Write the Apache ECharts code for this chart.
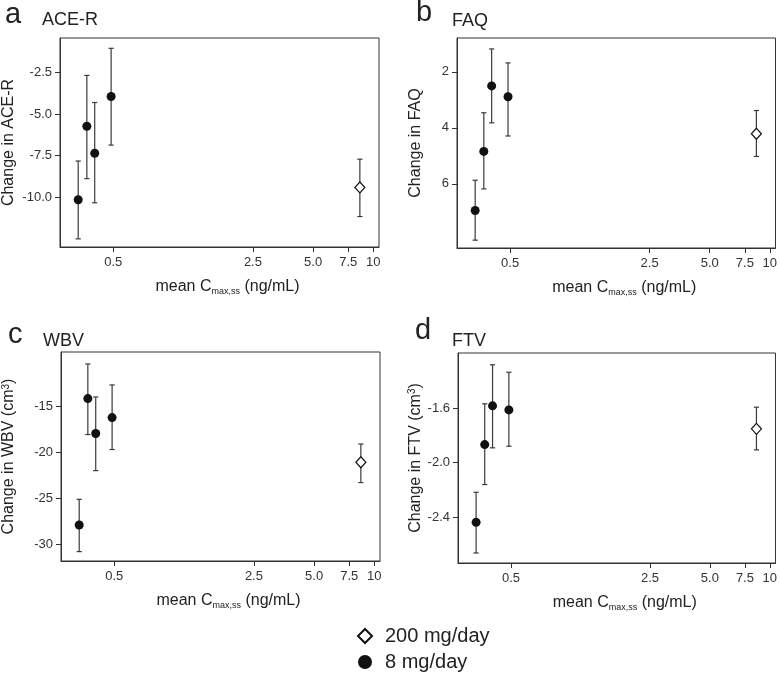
<!DOCTYPE html>
<html>
<head>
<meta charset="utf-8">
<script src="https://cdn.jsdelivr.net/npm/echarts@6/dist/echarts.min.js"></script>
<style>
html,body{margin:0;padding:0;background:#fff;}
#main{width:780px;height:675px;}
</style>
</head>
<body>
<div id="main"></div>
<script>
// ---- data ----
const conc8 = [0.334, 0.369, 0.404, 0.488];   // mean Cmax,ss for 8 mg/day groups
const conc200 = [8.57];                        // mean Cmax,ss for 200 mg/day

const aceMean8 = [-10.16, -5.74, -7.36, -3.95];
const aceLow8  = [-12.51, -8.89, -10.34, -6.87];
const aceHigh8 = [-7.83, -2.68, -4.31, -1.05];
const aceMean200 = [-9.42];
const aceLow200  = [-11.17];
const aceHigh200 = [-7.72];

const faqMean8 = [6.95, 4.84, 2.50, 2.89];
const faqLow8  = [5.87, 3.46, 1.18, 1.68];
const faqHigh8 = [8.01, 6.18, 3.82, 4.29];
const faqMean200 = [4.21];
const faqLow200  = [3.38];
const faqHigh200 = [5.02];

const wbvMean8 = [-27.87, -14.13, -17.93, -16.20];
const wbvLow8  = [-30.76, -18.04, -21.96, -19.67];
const wbvHigh8 = [-25.08, -10.37, -13.96, -12.65];
const wbvMean200 = [-21.05];
const wbvLow200  = [-23.26];
const wbvHigh200 = [-19.07];

const ftvMean8 = [-2.44, -1.866, -1.58, -1.61];
const ftvLow8  = [-2.666, -2.161, -1.89, -1.878];
const ftvHigh8 = [-2.218, -1.565, -1.277, -1.332];
const ftvMean200 = [-1.75];
const ftvLow200  = [-1.905];
const ftvHigh200 = [-1.59];

const xTickValues = [0.5, 2.5, 5, 7.5, 10];
const xTickLabels = ['0.5', '2.5', '5.0', '7.5', '10'];

const aceTicks = [-2.5, -5.0, -7.5, -10.0];
const faqTicks = [2, 4, 6];
const wbvTicks = [-15, -20, -25, -30];
const ftvTicks = [-1.6, -2.0, -2.4];

const legendNames = ['200 mg/day', '8 mg/day'];

// ---- build ----
const FONT = 'Liberation Sans, Arial, Helvetica, sans-serif';
const lg = v => Math.log10(v);
const xMin = -0.5673, xMax = 1.0287;

const grids = [
  {left: 59, top: 38, width: 320, height: 209},
  {left: 457, top: 38, width: 320, height: 210},
  {left: 60, top: 352, width: 320, height: 209},
  {left: 458, top: 353, width: 320, height: 210}
];

const panels = [
  {mean8: aceMean8, low8: aceLow8, high8: aceHigh8, mean2: aceMean200, low2: aceLow200, high2: aceHigh200,
   ticks: aceTicks, fmt: v => v.toFixed(1), min: -13.0, max: -0.43, inverse: false,
   yname: 'Change in ACE-R', gap: 43},
  {mean8: faqMean8, low8: faqLow8, high8: faqHigh8, mean2: faqMean200, low2: faqLow200, high2: faqHigh200,
   ticks: faqTicks, fmt: v => String(v), min: 0.79, max: 8.29, inverse: true,
   yname: 'Change in FAQ', gap: 33},
  {mean8: wbvMean8, low8: wbvLow8, high8: wbvHigh8, mean2: wbvMean200, low2: wbvLow200, high2: wbvHigh200,
   ticks: wbvTicks, fmt: v => String(v), min: -31.78, max: -9.07, inverse: false,
   yname: 'Change in WBV (cm{sup|3})', gap: 44},
  {mean8: ftvMean8, low8: ftvLow8, high8: ftvHigh8, mean2: ftvMean200, low2: ftvLow200, high2: ftvHigh200,
   ticks: ftvTicks, fmt: v => v.toFixed(1), min: -2.74, max: -1.19, inverse: false,
   yname: 'Change in FTV (cm{sup|3})', gap: 34}
];

const axisColor = '#333';
const xAxes = [], yAxes = [], series = [];

function renderErr(params, api) {
  const x = api.value(0), lo = api.value(1), hi = api.value(2);
  const p1 = api.coord([x, lo]), p2 = api.coord([x, hi]);
  const w = 2.6;
  const st = {stroke: '#3a3a3a', lineWidth: 1.2};
  return {type: 'group', children: [
    {type: 'line', shape: {x1: p1[0], y1: p1[1], x2: p2[0], y2: p2[1]}, style: st},
    {type: 'line', shape: {x1: p1[0] - w, y1: p1[1], x2: p1[0] + w, y2: p1[1]}, style: st},
    {type: 'line', shape: {x1: p2[0] - w, y1: p2[1], x2: p2[0] + w, y2: p2[1]}, style: st}
  ]};
}

panels.forEach((p, i) => {
  xAxes.push({
    type: 'value', gridIndex: i, min: xMin, max: xMax, position: 'bottom',
    axisLine: {show: true, onZero: false, lineStyle: {color: axisColor, width: 1}},
    axisTick: {show: true, inside: false, length: 5, lineStyle: {color: axisColor},
      customValues: xTickValues.map(lg)},
    axisLabel: {show: true, margin: 9, color: '#333', fontSize: 13, fontFamily: FONT,
      customValues: xTickValues.map(lg),
      formatter: v => {
        let best = 0, bd = Infinity;
        xTickValues.forEach((t, k) => { const d = Math.abs(lg(t) - v); if (d < bd) { bd = d; best = k; } });
        return xTickLabels[best];
      }},
    splitLine: {show: false},
    name: '{m|mean C}{s|max,ss}{m| (ng/mL)}',
    nameLocation: 'middle', nameGap: 30,
    nameTextStyle: {padding: [0, 0, 0, 16], rich: {
      m: {fontSize: 16, fontFamily: FONT, color: '#222', lineHeight: 20},
      s: {fontSize: 9, fontFamily: FONT, color: '#222', lineHeight: 9, verticalAlign: 'bottom', padding: [0, 0, 1, 0]}
    }}
  });
  yAxes.push({
    type: 'value', gridIndex: i, min: p.min, max: p.max, inverse: p.inverse, position: 'left',
    axisLine: {show: true, onZero: false, lineStyle: {color: axisColor, width: 1}},
    axisTick: {show: true, inside: false, length: 5, lineStyle: {color: axisColor},
      customValues: p.ticks},
    axisLabel: {show: true, margin: 8, color: '#333', fontSize: 13, fontFamily: FONT,
      customValues: p.ticks, formatter: p.fmt},
    splitLine: {show: false},
    name: p.yname, nameLocation: 'middle', nameGap: p.gap,
    nameTextStyle: {fontSize: 16, fontFamily: FONT, color: '#222', rich: {
      sup: {fontSize: 10, fontFamily: FONT, color: '#222', verticalAlign: 'top', lineHeight: 10}
    }}
  });
  series.push({
    type: 'custom', xAxisIndex: i, yAxisIndex: i, renderItem: renderErr, z: 2, silent: true,
    data: conc8.map((c, k) => [lg(c), p.low8[k], p.high8[k]]).concat(
          conc200.map((c, k) => [lg(c), p.low2[k], p.high2[k]]))
  });
  series.push({
    name: legendNames[1], type: 'scatter', xAxisIndex: i, yAxisIndex: i, z: 3,
    symbol: 'circle', symbolSize: 9,
    itemStyle: {color: '#111', opacity: 1},
    data: conc8.map((c, k) => [lg(c), p.mean8[k]])
  });
  series.push({
    name: legendNames[0], type: 'scatter', xAxisIndex: i, yAxisIndex: i, z: 3,
    symbol: 'diamond', symbolSize: [10, 11],
    itemStyle: {color: '#fff', borderColor: '#111', borderWidth: 1.2, opacity: 1},
    data: conc200.map((c, k) => [lg(c), p.mean2[k]])
  });
});

const titleDefs = [
  {letter: 'a', lx: 5, ly: 15, name: 'ACE-R', nx: 42, ny: 20},
  {letter: 'b', lx: 416, ly: 13, name: 'FAQ', nx: 452, ny: 21},
  {letter: 'c', lx: 8, ly: 335, name: 'WBV', nx: 43, ny: 341},
  {letter: 'd', lx: 415, ly: 331, name: 'FTV', nx: 452, ny: 341}
];
const graphics = [];
titleDefs.forEach(t => {
  graphics.push({type: 'text', x: t.lx, y: t.ly, silent: true,
    style: {text: t.letter, fontSize: 29, fontFamily: FONT, fill: '#222', verticalAlign: 'middle', align: 'left'}});
  graphics.push({type: 'text', x: t.nx, y: t.ny, silent: true,
    style: {text: t.name, fontSize: 18, fontFamily: FONT, fill: '#222', verticalAlign: 'middle', align: 'left'}});
});

const chart = echarts.init(document.getElementById('main'), null, {renderer: 'canvas'});
chart.setOption({
  animation: false,
  backgroundColor: '#fff',
  grid: grids.map(g => Object.assign({show: true, borderColor: axisColor, borderWidth: 1, backgroundColor: 'transparent'}, g)),
  xAxis: xAxes,
  yAxis: yAxes,
  series: series,
  graphic: graphics,
  legend: {
    data: legendNames, orient: 'vertical', left: 357, top: 626, padding: 0,
    itemWidth: 14, itemHeight: 14, itemGap: 6,
    textStyle: {fontSize: 20, fontFamily: FONT, color: '#222', padding: [0, 0, 0, 8]},
    selectedMode: false
  }
});
</script>
</body>
</html>
